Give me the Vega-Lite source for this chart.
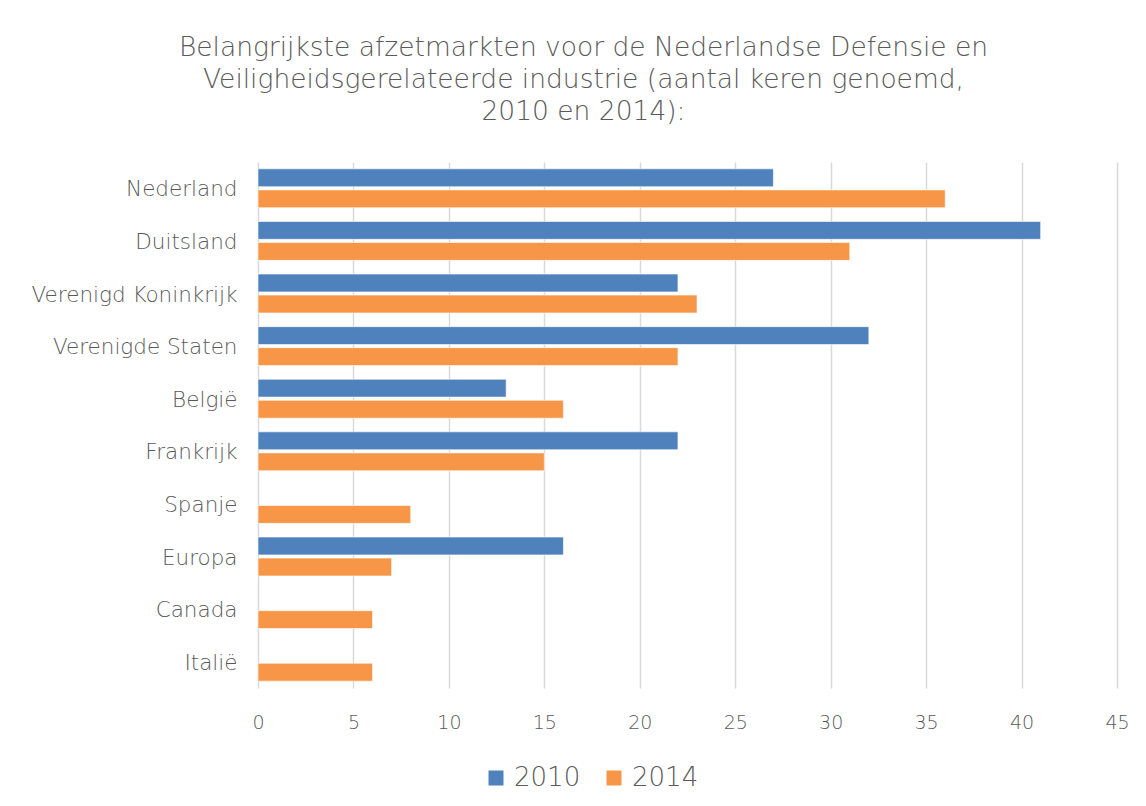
{
  "$schema": "https://vega.github.io/schema/vega-lite/v6.json",
  "autosize": {"type": "none"},
  "width": 859,
  "height": 526,
  "padding": {"left": 258, "top": 162, "right": 29, "bottom": 118},
  "background": "white",
  "title": {
    "text": ["Belangrijkste afzetmarkten voor de Nederlandse Defensie en", "Veiligheidsgerelateerde industrie (aantal keren genoemd,", "2010 en 2014):"],
    "anchor": "middle",
    "dx": -104,
    "offset": 37,
    "font": "DejaVu Sans",
    "fontSize": 26.5,
    "fontWeight": 200,
    "lineHeight": 32,
    "color": "#595959"
  },
  "data": {
    "values": [
      {"land": "Nederland", "jaar": "2010", "aantal": 27},
      {"land": "Nederland", "jaar": "2014", "aantal": 36},
      {"land": "Duitsland", "jaar": "2010", "aantal": 41},
      {"land": "Duitsland", "jaar": "2014", "aantal": 31},
      {"land": "Verenigd Koninkrijk", "jaar": "2010", "aantal": 22},
      {"land": "Verenigd Koninkrijk", "jaar": "2014", "aantal": 23},
      {"land": "Verenigde Staten", "jaar": "2010", "aantal": 32},
      {"land": "Verenigde Staten", "jaar": "2014", "aantal": 22},
      {"land": "België", "jaar": "2010", "aantal": 13},
      {"land": "België", "jaar": "2014", "aantal": 16},
      {"land": "Frankrijk", "jaar": "2010", "aantal": 22},
      {"land": "Frankrijk", "jaar": "2014", "aantal": 15},
      {"land": "Spanje", "jaar": "2010", "aantal": null},
      {"land": "Spanje", "jaar": "2014", "aantal": 8},
      {"land": "Europa", "jaar": "2010", "aantal": 16},
      {"land": "Europa", "jaar": "2014", "aantal": 7},
      {"land": "Canada", "jaar": "2010", "aantal": null},
      {"land": "Canada", "jaar": "2014", "aantal": 6},
      {"land": "Italië", "jaar": "2010", "aantal": null},
      {"land": "Italië", "jaar": "2014", "aantal": 6}
    ]
  },
  "mark": {"type": "bar", "stroke": "#ffffff", "strokeWidth": 1, "strokeOpacity": 0.6},
  "encoding": {
    "y": {
      "field": "land",
      "type": "nominal",
      "sort": null,
      "scale": {"paddingInner": 0.26, "paddingOuter": 0.13},
      "axis": {
        "title": null,
        "domain": false,
        "ticks": false,
        "labelPadding": 21,
        "labelOffset": 2,
        "labelLimit": 300,
        "labelFont": "DejaVu Sans",
        "labelFontWeight": 200,
        "labelFontSize": 21.5,
        "labelColor": "#595959"
      }
    },
    "yOffset": {
      "field": "jaar",
      "type": "nominal",
      "scale": {"paddingInner": 0.15}
    },
    "x": {
      "field": "aantal",
      "type": "quantitative",
      "scale": {"domain": [0, 45], "nice": false},
      "axis": {
        "title": null,
        "values": [0, 5, 10, 15, 20, 25, 30, 35, 40, 45],
        "domain": false,
        "ticks": false,
        "grid": true,
        "gridColor": "#d9d9d9",
        "gridWidth": 1.5,
        "labelFlush": false,
        "labelPadding": 25,
        "labelFont": "DejaVu Sans",
        "labelFontWeight": 200,
        "labelFontSize": 19,
        "labelColor": "#595959"
      }
    },
    "color": {
      "field": "jaar",
      "type": "nominal",
      "scale": {"domain": ["2010", "2014"], "range": ["#4f81bd", "#f79646"]},
      "legend": {
        "title": null,
        "orient": "none",
        "direction": "horizontal",
        "legendX": 225,
        "legendY": 603,
        "symbolType": "square",
        "symbolSize": 225,
        "symbolStrokeWidth": 0,
        "symbolOpacity": 1,
        "labelFont": "DejaVu Sans",
        "labelFontWeight": 200,
        "labelFontSize": 26,
        "labelColor": "#595959",
        "labelOffset": 5,
        "columnPadding": 20
      }
    }
  },
  "config": {
    "view": {"stroke": null}
  }
}
